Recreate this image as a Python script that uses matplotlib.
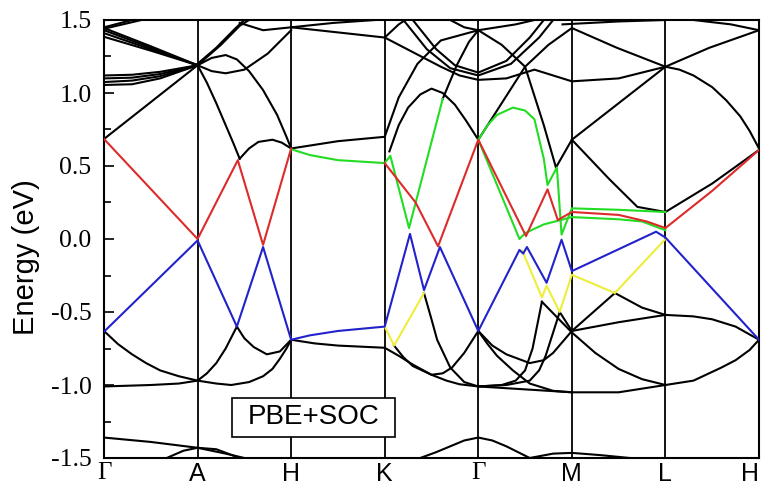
import matplotlib
matplotlib.use("Agg")
import matplotlib.pyplot as plt
from matplotlib.patches import Rectangle
from matplotlib.ticker import MultipleLocator

plt.rcParams["font.family"] = ["Liberation Sans", "DejaVu Sans"]
plt.rcParams["axes.unicode_minus"] = False

# high-symmetry path (one unit per segment)
kpath = [0, 1, 2, 3, 4, 5, 6, 7]
klabels = ["Γ", "A", "H", "K", "Γ", "M", "L", "H"]

# band segments as (k, E) points, E in eV
red_bands = [
    [(0, 0.685), (1, 0.0), (1.43, 0.54), (1.7, -0.04), (2, 0.62)],
    [(3, 0.52), (3.33, 0.25), (3.57, -0.05), (4, 0.68), (4.51, 0.02), (4.74, 0.34),
     (4.85, 0.13), (5, 0.185), (5.5, 0.165), (5.8, 0.12), (6, 0.075), (6.5, 0.33), (7, 0.61)],
]
blue_bands = [
    [(0, -0.635), (1, -0.01), (1.42, -0.6), (1.7, -0.055), (2, -0.69), (2.2, -0.66),
     (2.5, -0.63), (3, -0.60), (3.27, 0.035), (3.42, -0.35), (3.59, -0.055), (4, -0.63),
     (4.44, -0.075), (4.48, -0.1), (4.52, -0.055), (4.73, -0.3), (4.89, -0.005), (5, -0.22),
     (5.9, 0.05), (6, 0.01), (7, -0.69)],
]
green_bands = [
    [(2, 0.615), (2.2, 0.575), (2.5, 0.54), (3, 0.52), (3.06, 0.57), (3.26, 0.075),
     (3.62, 0.96)],
    [(4, 0.68), (4.1, 0.78), (4.2, 0.85), (4.37, 0.9), (4.5, 0.88), (4.6, 0.82), (4.7, 0.55),
     (4.74, 0.37), (4.84, 0.49), (4.89, 0.03), (5, 0.21), (5.5, 0.2), (6, 0.185)],
    [(4, 0.68), (4.44, 0.0), (4.5, 0.04), (4.7, 0.1), (5, 0.15), (5.5, 0.135),
     (5.75, 0.12), (6, 0.06)],
]
yellow_bands = [
    [(3, -0.60), (3.1, -0.73), (3.42, -0.37)],
    [(4.47, -0.08), (4.68, -0.4), (4.73, -0.32), (4.87, -0.5), (5, -0.245),
     (5.46, -0.37), (6, 0.0)],
]
black_bands = [
    # Γ-A, upper
    [(0, 1.445), (0.5, 1.32), (1, 1.19)],
    [(0, 1.43), (0.5, 1.31), (1, 1.19)],
    [(0, 1.41), (0.5, 1.30), (1, 1.19)],
    [(0, 1.385), (0.5, 1.29), (1, 1.19)],
    [(0, 1.12), (0.3, 1.125), (0.6, 1.145), (1, 1.19)],
    [(0, 1.10), (0.3, 1.105), (0.6, 1.13), (1, 1.19)],
    [(0, 1.075), (0.3, 1.085), (0.6, 1.115), (1, 1.19)],
    [(0, 1.055), (0.3, 1.06), (0.6, 1.10), (1, 1.19)],
    [(0, 0.685), (1, 1.19)],
    [(0, 1.45), (0.15, 1.475), (0.3, 1.5)],
    [(0, 1.44), (0.2, 1.47), (0.4, 1.5)],
    # A-H, upper
    [(1, 1.19), (1.15, 1.24), (1.3, 1.26), (1.42, 1.23), (1.55, 1.15), (1.7, 1.02),
     (1.85, 0.85), (1.95, 0.7), (2, 0.62)],
    [(1, 1.19), (1.15, 1.15), (1.3, 1.135), (1.5, 1.16), (1.75, 1.27), (2, 1.43)],
    [(1, 1.2), (1.2, 1.31), (1.4, 1.44), (1.5, 1.5)],
    [(1, 1.19), (1.25, 1.33), (1.45, 1.46), (1.55, 1.5)],
    [(1, 1.19), (1.1, 1.07), (1.2, 0.93), (1.3, 0.78), (1.38, 0.66), (1.45, 0.55)],
    [(1.45, 0.55), (1.55, 0.62), (1.65, 0.665), (1.8, 0.68), (1.9, 0.66), (2, 0.62)],
    [(1.45, 1.48), (1.7, 1.43), (2, 1.45)],
    # H-K
    [(2, 0.62), (2.5, 0.67), (3, 0.70)],
    [(2, 1.45), (2.5, 1.415), (3, 1.38)],
    [(2, 1.45), (2.45, 1.48), (2.9, 1.5)],
    [(2, -0.69), (2.25, -0.715), (2.5, -0.73), (3, -0.745)],
    # K-Γ, upper
    [(3.05, 0.6), (3.15, 0.78), (3.25, 0.9), (3.38, 0.99), (3.5, 1.03), (3.62, 1.0),
     (3.75, 0.92), (3.87, 0.81), (4, 0.68)],
    [(3, 0.70), (3.15, 0.97), (3.35, 1.2), (3.6, 1.36), (4, 1.43)],
    [(3.62, 0.96), (3.77, 1.19), (3.9, 1.35), (4, 1.43)],
    [(3, 1.38), (3.15, 1.47), (3.22, 1.5)],
    [(3, 1.38), (3.3, 1.28), (3.6, 1.18), (3.8, 1.12), (4, 1.09), (4.3, 1.1), (4.6, 1.16),
     (5, 1.08), (5.5, 1.1), (6, 1.18)],
    [(3.2, 1.5), (3.45, 1.3), (3.7, 1.17), (4, 1.12), (4.35, 1.2), (4.65, 1.38), (4.8, 1.5)],
    [(3.3, 1.5), (3.55, 1.3), (3.75, 1.19), (4, 1.14), (4.3, 1.22), (4.55, 1.38), (4.7, 1.5)],
    [(3.7, 1.5), (3.85, 1.45), (4, 1.43)],
    # Γ-M-L-H, upper
    [(4, 0.68), (4.25, 0.93), (4.5, 1.18), (4.75, 1.33), (5, 1.445), (5.48, 1.31), (6, 1.18),
     (6.15, 1.16), (6.3, 1.12), (6.5, 1.04), (6.65, 0.95), (6.8, 0.84), (6.9, 0.74), (7, 0.62)],
    [(4, 1.43), (4.25, 1.33), (4.5, 1.18), (4.7, 0.78), (4.83, 0.49), (5, 0.68), (6, 1.18),
     (6.47, 1.31), (7, 1.43)],
    [(5, 0.68), (5.4, 0.41), (5.7, 0.22), (6, 0.185), (6.5, 0.38), (7, 0.61)],
    [(4, 1.43), (4.4, 1.47), (4.6, 1.5)],
    [(4.9, 1.47), (5.5, 1.49), (6, 1.5)],
    [(6.3, 1.5), (6.7, 1.47), (7, 1.43)],
    # Γ-A-H, lower
    [(0, -0.63), (0.15, -0.72), (0.3, -0.79), (0.45, -0.85), (0.6, -0.9), (0.8, -0.94),
     (1, -0.97), (1.2, -0.99), (1.36, -1.0), (1.55, -0.98), (1.7, -0.94), (1.8, -0.89),
     (1.88, -0.82), (1.95, -0.75), (2, -0.69)],
    [(0, -1.01), (0.5, -1.0), (0.8, -0.99), (1, -0.97), (1.1, -0.92), (1.2, -0.85),
     (1.3, -0.75), (1.42, -0.6)],
    [(1.42, -0.6), (1.5, -0.68), (1.6, -0.74), (1.74, -0.79), (1.88, -0.77), (2, -0.69)],
    [(0, -1.36), (0.5, -1.39), (1, -1.43), (1.3, -1.47), (1.5, -1.5)],
    [(0.67, -1.5), (0.85, -1.45), (1, -1.43), (1.2, -1.44), (1.45, -1.5)],
    # K-Γ-M-L-H, lower
    [(3, -0.745), (3.15, -0.8), (3.3, -0.86), (3.5, -0.93), (3.66, -0.97), (3.8, -0.995),
     (4, -1.01), (4.5, -1.03), (5, -1.05), (5.5, -1.05), (6, -1.0), (6.3, -0.97),
     (6.6, -0.88), (6.75, -0.83), (6.9, -0.76), (7, -0.69)],
    [(3.1, -0.73), (3.2, -0.81), (3.3, -0.87), (3.5, -0.93), (3.62, -0.92), (3.72, -0.88),
     (3.85, -0.78), (4, -0.63)],
    [(3.42, -0.37), (3.5, -0.55), (3.56, -0.69), (3.7, -0.88), (3.85, -0.98), (4, -1.01)],
    [(3.38, -1.5), (3.55, -1.46), (3.7, -1.42), (3.85, -1.38), (4, -1.36), (4.15, -1.38),
     (4.3, -1.42), (4.55, -1.5)],
    [(4, -1.01), (4.25, -1.0), (4.4, -0.97), (4.5, -0.9), (4.58, -0.75), (4.68, -0.43)],
    [(4, -1.01), (4.3, -1.0), (4.55, -0.97), (4.65, -0.9), (4.72, -0.8), (4.87, -0.5)],
    [(4, -0.63), (4.15, -0.73), (4.3, -0.79), (4.55, -0.85), (4.7, -0.83), (4.8, -0.78),
     (5, -0.63), (5.5, -0.57), (6, -0.52), (6.3, -0.53), (6.5, -0.55), (6.75, -0.6),
     (7, -0.69)],
    [(4, -0.63), (4.1, -0.72), (4.2, -0.8), (4.37, -0.9), (4.55, -0.99), (4.8, -1.04),
     (5, -1.05)],
    [(4.68, -0.43), (5, -0.64), (5.25, -0.78), (5.5, -0.89), (5.75, -0.96), (6, -1.0)],
    [(4.87, -0.5), (5, -0.63), (5.46, -0.37)],
    [(5.46, -0.37), (5.75, -0.47), (6, -0.52)],
    [(4.55, -1.5), (4.8, -1.47), (5, -1.465), (5.3, -1.48), (5.62, -1.5)],
]

fig = plt.figure(figsize=(7.61, 4.88), dpi=100)
ax = fig.add_axes([104 / 761, 30 / 488, 655 / 761, 438 / 488])


def draw(bands, color, z):
    for band in bands:
        ks = [p[0] for p in band]
        es = [p[1] for p in band]
        ax.plot(ks, es, color=color, lw=1.5, zorder=z, solid_joinstyle="round")


draw(black_bands, "black", 2)
draw(yellow_bands, "#eeee3a", 3)
draw(green_bands, "#22dd22", 3)
draw(red_bands, "#dd2a2a", 3)
draw(blue_bands, "#2222cc", 3)

for k in kpath[1:-1]:
    ax.axvline(k, color="black", lw=1.3, zorder=1)

ax.set_xlim(kpath[0], kpath[-1])
ax.set_ylim(-1.5, 1.5)
ax.set_xticks(kpath)
ax.set_xticklabels(klabels, fontsize=18)
xlabs = ax.get_xticklabels()
for lab in xlabs:
    if lab.get_text() == "Γ":
        lab.set_fontfamily("Liberation Serif")
# keep the last label inside the figure edge
xlabs[-1].set_horizontalalignment("right")
ax.tick_params(axis="x", length=0, pad=3)

ax.yaxis.set_major_locator(MultipleLocator(0.5))
ax.yaxis.set_minor_locator(MultipleLocator(0.25))
ax.tick_params(axis="y", which="major", direction="in", length=7, width=1.2, pad=9)
ax.tick_params(axis="y", which="minor", direction="in", length=5, width=1.2)
ax.yaxis.set_major_formatter(plt.FormatStrFormatter("%.1f"))
for lab in ax.get_yticklabels():
    lab.set_fontfamily("Liberation Serif")
    lab.set_fontsize(18.5)

ax.set_ylabel("Energy (eV)", fontsize=21)
ax.yaxis.set_label_coords(-0.098, 0.459)

for sp in ax.spines.values():
    sp.set_linewidth(1.5)

ax.add_patch(Rectangle((0.1954, 0.0479), 0.2489, 0.0891, transform=ax.transAxes,
                       facecolor="white", edgecolor="black", lw=1.2, zorder=5))
ax.text(0.32, 0.0925, "PBE+SOC", transform=ax.transAxes, fontsize=20,
        ha="center", va="center", zorder=6)

fig.savefig("out.png", dpi=100)
